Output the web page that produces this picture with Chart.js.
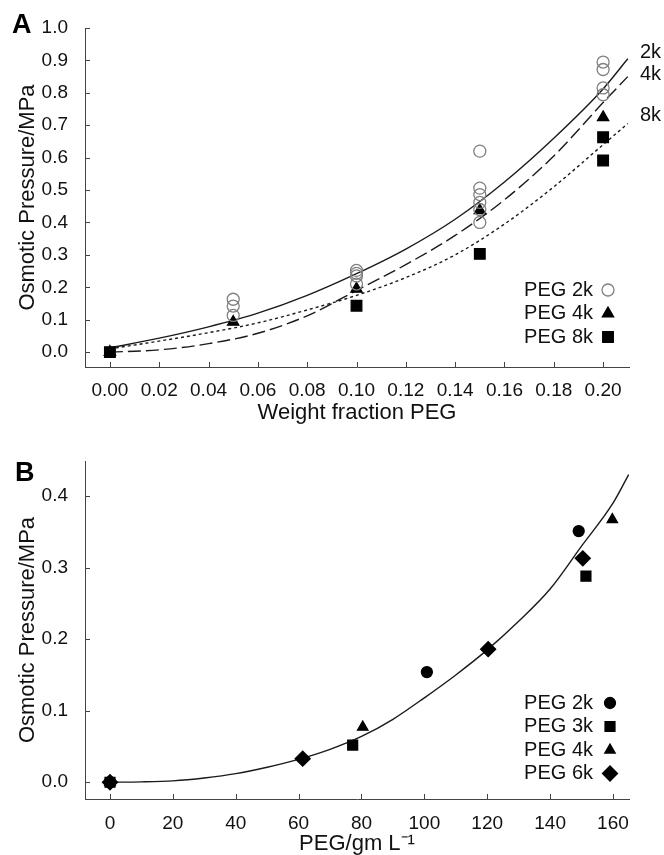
<!DOCTYPE html>
<html>
<head>
<meta charset="utf-8">
<title>Osmotic pressure of PEG solutions</title>
<script src="https://cdn.jsdelivr.net/npm/chart.js@4.4.1/dist/chart.umd.min.js"></script>
<style>
  body { margin: 0; background: #fff; font-family: "Liberation Sans", Arial, sans-serif; }
  #wrap { position: relative; width: 664px; height: 855px; }
  canvas { position: absolute; left: 0; }
  #chartA { top: 0; }
  #chartB { top: 430px; }
  .panel { position: absolute; font-weight: bold; font-size: 27px; line-height: 27px; color: #000; }
</style>
</head>
<body>
<div id="wrap">
  <canvas id="chartA" width="664" height="430"></canvas>
  <canvas id="chartB" width="664" height="425"></canvas>
  <div class="panel" style="left:12px;top:11px">A</div>
  <div class="panel" style="left:15px;top:459px">B</div>
</div>

<script>
// ***** panel A : osmotic pressure vs weight fraction PEG
var xTicksA = [0, 0.02, 0.04, 0.06, 0.08, 0.10, 0.12, 0.14, 0.16, 0.18, 0.20];
var yTicksA = [0, 0.1, 0.2, 0.3, 0.4, 0.5, 0.6, 0.7, 0.8, 0.9, 1.0];

var peg2kX = [0.05, 0.05, 0.05, 0.10, 0.10, 0.10, 0.10, 0.15, 0.15, 0.15, 0.15, 0.15, 0.15, 0.20, 0.20, 0.20, 0.20];
var peg2kY = [0.163, 0.142, 0.113, 0.252, 0.243, 0.235, 0.210, 0.620, 0.506, 0.486, 0.462, 0.440, 0.400, 0.895, 0.872, 0.815, 0.794];

var peg4kX = [0, 0.05, 0.10, 0.15, 0.20];
var peg4kY = [0, 0.093, 0.195, 0.437, 0.724];

var peg8kX = [0, 0.10, 0.15, 0.20, 0.20];
var peg8kY = [0, 0.143, 0.303, 0.663, 0.591];

// fitted curves
var curveXA = [0, 0.02, 0.04, 0.06, 0.08, 0.10, 0.12, 0.14, 0.16, 0.18, 0.20, 0.21];
var curve2kY = [0.013, 0.043, 0.078, 0.120, 0.175, 0.242, 0.318, 0.410, 0.525, 0.660, 0.812, 0.905];
var curve4kY = [0, 0.007, 0.026, 0.058, 0.112, 0.190, 0.270, 0.360, 0.470, 0.605, 0.770, 0.850];
var curve8kY = [0.010, 0.034, 0.060, 0.090, 0.130, 0.175, 0.230, 0.300, 0.395, 0.510, 0.640, 0.705];

var curveLabelsA = ['2k', '4k', '8k'];
var curveLabelValsA = [0.923, 0.858, 0.731];

// ***** panel B : osmotic pressure vs PEG concentration
var xTicksB = [0, 20, 40, 60, 80, 100, 120, 140, 160];
var yTicksB = [0, 0.1, 0.2, 0.3, 0.4];

var b2kX = [0, 100.8, 149.1];
var b2kY = [0, 0.154, 0.351];
var b3kX = [0, 77.2, 151.4];
var b3kY = [0, 0.052, 0.288];
var b4kX = [0, 80.4, 159.8];
var b4kY = [0, 0.077, 0.367];
var b6kX = [0, 61.3, 120.3, 150.4];
var b6kY = [0, 0.033, 0.186, 0.313];

var curveXB = [0, 10, 20, 30, 40, 50, 60, 70, 80, 90, 100, 110, 120, 130, 140, 150, 160, 165];
var curveYB = [0, 0.0005, 0.002, 0.006, 0.012, 0.021, 0.032, 0.046, 0.064, 0.088, 0.118, 0.150, 0.185, 0.225, 0.270, 0.330, 0.390, 0.430];


Chart.defaults.font.family = '"Liberation Sans", Arial, sans-serif';
Chart.defaults.color = '#111';

function pairs(xs, ys) { // zip x and y arrays into points
    return xs.map(function (x, i) { return { x: x, y: ys[i] }; });
}

function markerSet(label, xs, ys, style, radius, fill, stroke) {
    return {
        label: label,
        data: pairs(xs, ys),
        pointStyle: style,
        pointRadius: radius,
        pointHoverRadius: radius,
        backgroundColor: fill,
        borderColor: stroke,
        pointBorderWidth: 1.3,
        order: 0
    };
}

function curveSet(xs, ys, dash) {
    return {
        isCurve: true,
        data: pairs(xs, ys),
        showLine: true,
        pointRadius: 0,
        borderColor: '#1a1a1a',
        borderWidth: 1.4,
        borderDash: dash,
        cubicInterpolationMode: 'monotone',
        order: 1
    };
}

// short tick marks pointing into the plot
var innerTicks = {
    id: 'innerTicks',
    afterDraw: function (chart) {
        var ctx = chart.ctx, area = chart.chartArea;
        var sx = chart.scales.x, sy = chart.scales.y;
        ctx.save();
        ctx.strokeStyle = '#444';
        ctx.lineWidth = 1;
        ctx.beginPath();
        sx.ticks.forEach(function (t) {
            var px = Math.round(sx.getPixelForValue(t.value)) + 0.5;
            ctx.moveTo(px, area.bottom);
            ctx.lineTo(px, area.bottom - 5);
        });
        sy.ticks.forEach(function (t) {
            var py = Math.round(sy.getPixelForValue(t.value)) + 0.5;
            ctx.moveTo(area.left, py);
            ctx.lineTo(area.left + 5, py);
        });
        ctx.stroke();
        ctx.restore();
    }
};

// legend in lower right corner: text, then marker
var cornerLegend = {
    id: 'cornerLegend',
    afterDraw: function (chart, args, opts) {
        var ctx = chart.ctx, area = chart.chartArea;
        var items = chart.data.datasets.filter(function (d) { return !d.isCurve; });
        ctx.save();
        ctx.font = '20px "Liberation Sans", Arial, sans-serif';
        ctx.fillStyle = '#111';
        ctx.textAlign = 'right';
        ctx.textBaseline = 'middle';
        items.forEach(function (d, i) {
            var y = area.bottom - opts.firstRow + i * opts.rowGap;
            ctx.fillText(d.label, area.right - opts.textRight, y);
            ctx.fillStyle = d.backgroundColor;
            ctx.strokeStyle = d.borderColor;
            ctx.lineWidth = 1.3;
            Chart.helpers.drawPoint(ctx, { pointStyle: d.pointStyle, radius: d.pointRadius, borderWidth: 1.3 }, area.right - opts.markerRight, y);
            ctx.fillStyle = '#111';
        });
        ctx.restore();
    }
};

// curve names at the right end of the fits
var curveNames = {
    id: 'curveNames',
    afterDraw: function (chart, args, opts) {
        if (!opts.labels) return;
        var ctx = chart.ctx, area = chart.chartArea;
        ctx.save();
        ctx.font = '20px "Liberation Sans", Arial, sans-serif';
        ctx.fillStyle = '#111';
        ctx.textAlign = 'left';
        ctx.textBaseline = 'middle';
        opts.labels.forEach(function (t, i) {
            ctx.fillText(t, area.right + 11, chart.scales.y.getPixelForValue(opts.values[i]));
        });
        ctx.restore();
    }
};

function axisOpts(min, max, ticks, digits, title, thick, tickPad, titlePad) {
    return {
        type: 'linear',
        min: min,
        max: max,
        afterBuildTicks: function (scale) {
            scale.ticks = ticks.map(function (v) { return { value: v }; });
        },
        afterFit: function (scale) {
            if (scale.isHorizontal()) scale.height = thick; else scale.width = thick;
        },
        grid: { display: false },
        border: { display: true, color: '#444', width: 1 },
        ticks: {
            padding: tickPad,
            maxRotation: 0,
            autoSkip: false,
            font: { size: 19 },
            color: '#111',
            callback: function (v) { return Number(v).toFixed(digits); }
        },
        title: {
            display: true,
            text: title,
            color: '#111',
            font: { size: 22, lineHeight: 1.2 },
            padding: titlePad
        }
    };
}

// ***** chart A
new Chart(document.getElementById('chartA'), {
    type: 'scatter',
    data: {
        datasets: [
            markerSet('PEG 2k', peg2kX, peg2kY, 'circle', 6, 'rgba(0,0,0,0)', '#808080'),
            markerSet('PEG 4k', peg4kX, peg4kY, 'triangle', 6.5, '#000', '#000'),
            markerSet('PEG 8k', peg8kX, peg8kY, 'rect', 7.5, '#000', '#000'),
            curveSet(curveXA, curve2kY, []),
            curveSet(curveXA, curve4kY, [13, 5]),
            curveSet(curveXA, curve8kY, [3, 3])
        ]
    },
    options: {
        responsive: false,
        animation: false,
        layout: { padding: { top: 28, right: 35, left: 0, bottom: 0 } },
        scales: {
            x: axisOpts(-0.0101, 0.2105, xTicksA, 2, 'Weight fraction PEG', 63, 4, { top: 0, bottom: 4 }),
            y: axisOpts(-0.046, 1.0, yTicksA, 1, 'Osmotic Pressure/MPa', 85, 9, { top: 15, bottom: 0 })
        },
        plugins: {
            legend: { display: false },
            tooltip: { enabled: false },
            cornerLegend: { firstRow: 77, rowGap: 23.5, textRight: 36, markerRight: 21 },
            curveNames: { labels: curveLabelsA, values: curveLabelValsA }
        }
    },
    plugins: [innerTicks, cornerLegend, curveNames]
});

// ***** chart B
new Chart(document.getElementById('chartB'), {
    type: 'scatter',
    data: {
        datasets: [
            markerSet('PEG 2k', b2kX, b2kY, 'circle', 5.5, '#000', '#000'),
            markerSet('PEG 3k', b3kX, b3kY, 'rect', 7, '#000', '#000'),
            markerSet('PEG 4k', b4kX, b4kY, 'triangle', 6, '#000', '#000'),
            markerSet('PEG 6k', b6kX, b6kY, 'rectRot', 7.5, '#000', '#000'),
            curveSet(curveXB, curveYB, [])
        ]
    },
    options: {
        responsive: false,
        animation: false,
        layout: { padding: { top: 31, right: 35, left: 0, bottom: 0 } },
        scales: {
            x: axisOpts(-7.95, 165.1, xTicksB, 0, 'PEG/gm L\u207B\u00B9', 56, 5, { top: 0, bottom: -2 }),
            y: axisOpts(-0.0234, 0.449, yTicksB, 1, 'Osmotic Pressure/MPa', 85, 9, { top: 15, bottom: 0 })
        },
        plugins: {
            legend: { display: false },
            tooltip: { enabled: false },
            cornerLegend: { firstRow: 96, rowGap: 23.5, textRight: 36, markerRight: 19 }
        }
    },
    plugins: [innerTicks, cornerLegend, curveNames]
});
</script>
</body>
</html>
